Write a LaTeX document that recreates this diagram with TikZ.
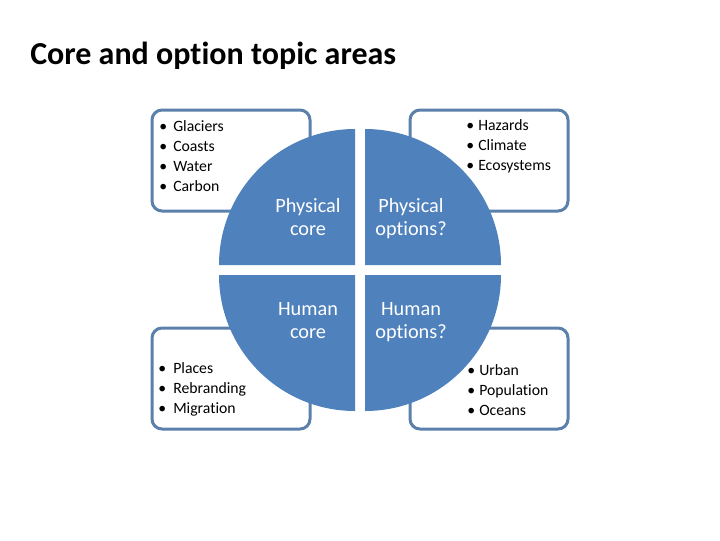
\documentclass[tikz,border=0pt]{standalone}
\usepackage{fontspec}
\setmainfont{Carlito}[Ligatures=NoCommon]

\definecolor{quadblue}{RGB}{79,129,189}
\definecolor{boxblue}{RGB}{92,128,172}

\tikzset{
  listbox/.style={draw=boxblue, line width=2.25, rounded corners=7.5, fill=white},
  quarter/.style={fill=quadblue},
  bullets/.style={inner sep=0pt, align=left, font=\fontsize{11.8}{15}\selectfont},
  quadtext/.style={anchor=north, inner sep=0.75pt, align=center, text=white, font=\fontsize{15.2}{17.25}\selectfont}
}
\newcommand{\wideitem}{\makebox[10.5pt][l]{•}}
\newcommand{\narrowitem}{\makebox[9pt][l]{•}}

\begin{document}
\begin{tikzpicture}[x=0.75pt,y=0.75pt,yscale=-1,xscale=1]
        \path[use as bounding box] (0,0) rectangle (720,540);

        % Title
        \draw (30,56) node [anchor=west][inner sep=0pt] (title) {\fontsize{24}{28}\selectfont\bfseries Core and option topic areas};

        %Shape: Rounded Rectangle [id:topleft]
        \draw [listbox] (152,110) rectangle (310,211);
        %Shape: Rounded Rectangle [id:topright]
        \draw [listbox] (410,110) rectangle (568,211);
        %Shape: Rounded Rectangle [id:bottomleft]
        \draw [listbox] (152,328) rectangle (310,429);
        %Shape: Rounded Rectangle [id:bottomright]
        \draw [listbox] (410,328) rectangle (568,429);

        %Shape: Quarter circle (physical core)
        \fill [quarter] (355,265) -- (219,265) arc (180:270:136) -- cycle;
        %Shape: Quarter circle (physical options)
        \fill [quarter] (365,265) -- (365,129) arc (270:360:136) -- cycle;
        %Shape: Quarter circle (human options)
        \fill [quarter] (365,275) -- (501,275) arc (0:90:136) -- cycle;
        %Shape: Quarter circle (human core)
        \fill [quarter] (355,275) -- (355,411) arc (90:180:136) -- cycle;

        % Text Node
        \draw (308,197) node [quadtext] (physcore) {Physical\\core};
        % Text Node
        \draw (411,197) node [quadtext] (physopt) {Physical\\options?};
        % Text Node
        \draw (308,301) node [quadtext] (humcore) {Human\\core};
        % Text Node
        \draw (411,301) node [quadtext] (humopt) {Human\\options?};

        % Text Node
        \draw (159,156) node [anchor=west][bullets] (physlist) {\wideitem Glaciers\\\wideitem Coasts\\\wideitem Water\\\wideitem Carbon};
        % Text Node
        \draw (466,146) node [anchor=west][bullets] (optlist) {\narrowitem Hazards\\\narrowitem Climate\\\narrowitem Ecosystems};
        % Text Node
        \draw (158,389) node [anchor=west][bullets] (humlist) {\makebox[11.25pt][l]{•}Places\\\makebox[11.25pt][l]{•}Rebranding\\\makebox[11.25pt][l]{•}Migration};
        % Text Node
        \draw (467,390) node [anchor=west][bullets] (humoptlist) {\narrowitem Urban\\\narrowitem Population\\\narrowitem Oceans};
\end{tikzpicture}
\end{document}
